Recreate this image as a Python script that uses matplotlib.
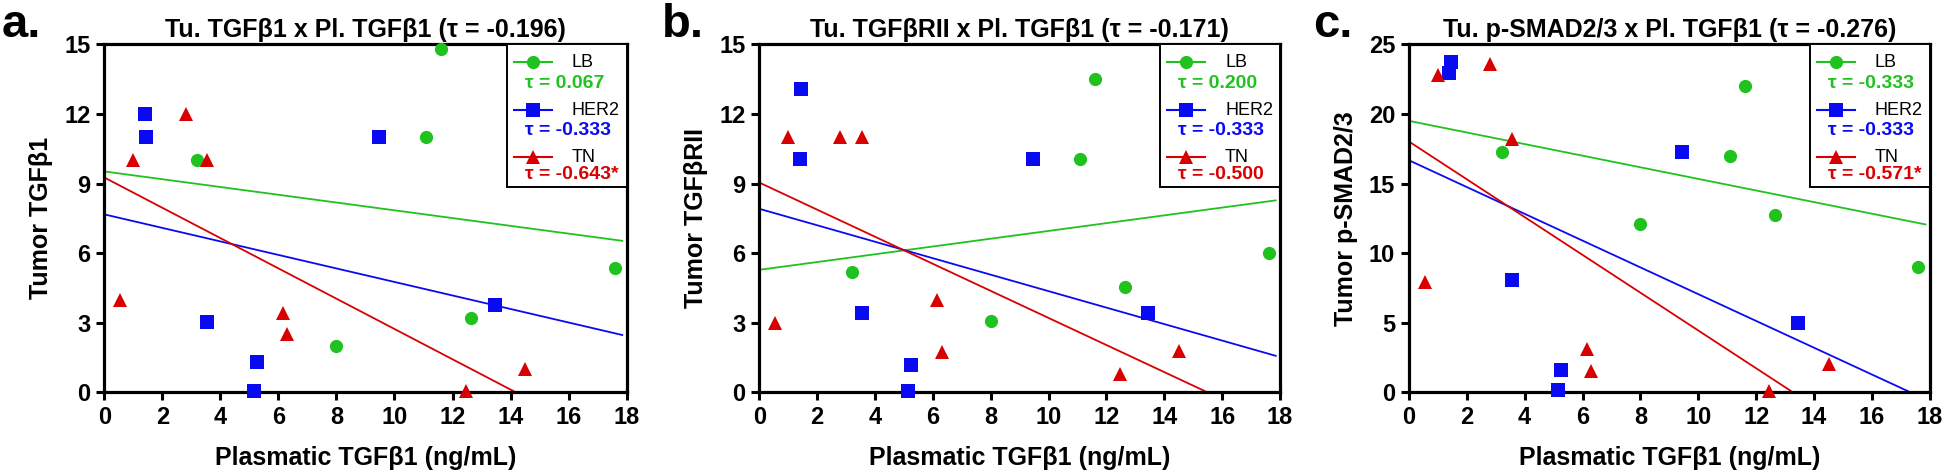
import numpy as np
import matplotlib
matplotlib.use('Agg')
import matplotlib.pyplot as plt
from matplotlib.patches import Rectangle

plt.rcParams['font.family'] = ['Liberation Sans', 'DejaVu Sans']

# plasmatic TGFb1 per patient, by subtype (same patients in all panels)
lb_x = [3.2, 8.0, 11.1, 11.6, 12.65, 17.6]
her2_x = [1.4, 1.45, 3.55, 5.15, 5.25, 9.45, 13.45]
tn_x = [0.55, 1.0, 2.8, 3.55, 6.15, 6.3, 12.45, 14.5]

# panel a: tumor TGFb1
a_lb = [10.0, 2.0, 11.0, 14.8, 3.2, 5.35]
a_her2 = [12.0, 11.0, 3.05, 0.07, 1.3, 11.0, 3.75]
a_tn = [4.0, 10.0, 12.0, 10.0, 3.4, 2.5, 0.07, 1.0]

# panel b: tumor TGFbRII
b_lb = [5.17, 3.09, 10.06, 13.5, 4.53, 6.0]
b_her2 = [10.07, 13.08, 3.42, 0.07, 1.19, 10.07, 3.42]
b_tn = [3.0, 11.0, 11.0, 11.0, 4.0, 1.75, 0.8, 1.8]

# panel c: tumor p-SMAD2/3
c_lb = [17.3, 12.1, 17.0, 22.0, 12.75, 9.0]
c_her2 = [22.96, 23.7, 8.04, 0.17, 1.6, 17.27, 5.0]
c_tn = [7.9, 22.8, 23.6, 18.2, 3.1, 1.5, 0.07, 2.0]

# fitted lines (intercept, slope): LB, HER2, TN
a_fit = [(9.52, -0.1675), (7.67, -0.2913), (9.26, -0.653)]
b_fit = [(5.28, 0.1677), (7.91, -0.355), (9.04, -0.5836)]
c_fit = [(19.5, -0.4168), (16.67, -0.962), (18.02, -1.358)]

a_tau = ['0.067', '-0.333', '-0.643*']
b_tau = ['0.200', '-0.333', '-0.500']
c_tau = ['-0.333', '-0.333', '-0.571*']

titles = ['Tu. TGF\u03b21 x Pl. TGF\u03b21 (\u03c4 = -0.196)',
          'Tu. TGF\u03b2RII x Pl. TGF\u03b21 (\u03c4 = -0.171)',
          'Tu. p-SMAD2/3 x Pl. TGF\u03b21 (\u03c4 = -0.276)']
ylabels = ['Tumor TGF\u03b21', 'Tumor TGF\u03b2RII', 'Tumor p-SMAD2/3']
letters = ['a.', 'b.', 'c.']
group_names = ['LB', 'HER2', 'TN']
colors = ['#1fc21f', '#0a0af2', '#d80000']
markers = ['o', 's', '^']
msizes = [9.5, 10, 10]

W, H = 1946, 476
fig = plt.figure(figsize=(W / 100, H / 100), dpi=100)
positions = [[0.0536, 0.1758, 0.2684, 0.7311],
             [0.3902, 0.1758, 0.2676, 0.7311],
             [0.7240, 0.1758, 0.2677, 0.7311]]
letter_x = [0.001, 0.340, 0.6747]

panels = [
    (a_lb, a_her2, a_tn, a_fit, a_tau, 15, 3),
    (b_lb, b_her2, b_tn, b_fit, b_tau, 15, 3),
    (c_lb, c_her2, c_tn, c_fit, c_tau, 25, 5),
]
xs = [lb_x, her2_x, tn_x]

for i, (lb, her2, tn, fits, taus, ymax, ystep) in enumerate(panels):
    ax = fig.add_axes(positions[i])
    ys = [lb, her2, tn]

    # regression lines
    xline = np.array([0, 17.85])
    for g in range(3):
        b0, m = fits[g]
        ax.plot(xline, b0 + m * xline, color=colors[g], lw=1.3, zorder=2)
    # points
    for g in range(3):
        ax.plot(xs[g], ys[g], linestyle='none', marker=markers[g], ms=msizes[g],
                color=colors[g], markeredgewidth=0, clip_on=False, zorder=4)

    ax.set_xlim(0, 18)
    ax.set_ylim(0, ymax)
    ax.set_xticks(np.arange(0, 19, 2))
    ax.set_yticks(np.arange(0, ymax + 1, ystep))
    for sp in ax.spines.values():
        sp.set_linewidth(2.3)
    ax.tick_params(direction='out', length=6, width=2.2, labelsize=17, pad=4)
    for lab in ax.get_xticklabels() + ax.get_yticklabels():
        lab.set_fontweight('bold')
    ax.set_xlabel('Plasmatic TGF\u03b21 (ng/mL)', fontsize=18, fontweight='bold', labelpad=12)
    ax.set_ylabel(ylabels[i], fontsize=18, fontweight='bold', labelpad=8)
    ax.set_title(titles[i], fontsize=18, fontweight='bold', pad=5)
    fig.text(letter_x[i], 1 - 37 / H, letters[i], fontsize=34, fontweight='bold',
             va='baseline', ha='left')

    # legend box, drawn by hand; offsets are pixels from the top-right corner
    axw = positions[i][2] * W
    axh = positions[i][3] * H

    def fx(dx):
        return 1 - dx / axw

    def fy(dy):
        return 1 - dy / axh

    ax.add_patch(Rectangle((fx(120), fy(143)), 120 / axw, 143 / axh, transform=ax.transAxes,
                           facecolor='white', edgecolor='black', lw=1.4, clip_on=False, zorder=5))

    rows = [17.7, 66, 112.7]
    tau_rows = [39.3, 86, 130]
    for g in range(3):
        ax.plot([fx(113), fx(75)], [fy(rows[g])] * 2, color=colors[g], lw=1.5,
                transform=ax.transAxes, clip_on=False, zorder=6)
        ax.plot([fx(94)], [fy(rows[g])], marker=markers[g], ms=msizes[g], color=colors[g],
                mew=0, transform=ax.transAxes, clip_on=False, zorder=7)
        ax.text(fx(55), fy(rows[g]), group_names[g], transform=ax.transAxes, fontsize=13,
                va='center', ha='left', color='black', zorder=7)
        ax.text(fx(102), fy(tau_rows[g]), '\u03c4 = ' + taus[g], transform=ax.transAxes,
                fontsize=14, fontweight='bold', va='center', ha='left', color=colors[g], zorder=7)

fig.savefig('out.png', dpi=100)
